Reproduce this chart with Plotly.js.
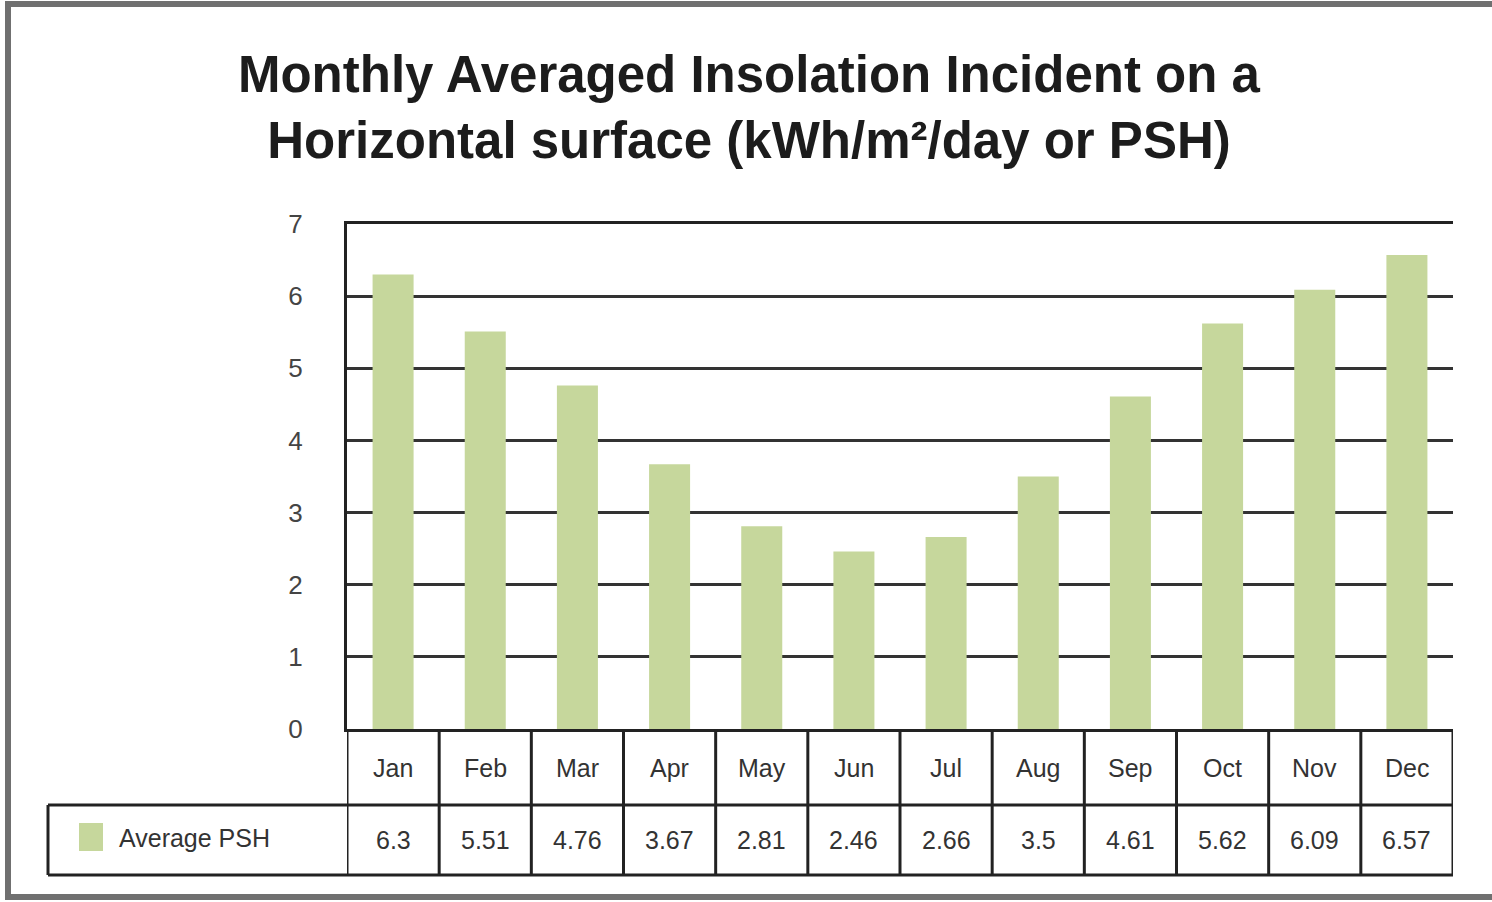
<!DOCTYPE html>
<html>
<head>
<meta charset="utf-8">
<script src="https://cdn.plot.ly/plotly-3.0.1.min.js"></script>
<style>html,body{margin:0;padding:0;background:#fff;}#chart{width:1492px;height:902px;}</style>
</head>
<body>
<div id="chart"></div>
<script>
// ---- data ----
const months = ["Jan","Feb","Mar","Apr","May","Jun","Jul","Aug","Sep","Oct","Nov","Dec"];
const averagePSH = [6.3, 5.51, 4.76, 3.67, 2.81, 2.46, 2.66, 3.5, 4.61, 5.62, 6.09, 6.57];
const seriesName = "Average PSH";
const yTicks = [0,1,2,3,4,5,6,7];
const chartTitle = "Monthly Averaged Insolation Incident on a<br>Horizontal surface (kWh/m²/day or PSH)";

// ---- layout geometry (pixels) ----
const W = 1492, H = 902;
const L = 347, R = 1453, T = 224, B = 729;
const px2x = p => (p - L) / (R - L);
const px2y = p => (B - p) / (B - T);

const barColor = "#c6d79c";
const lineColor = "#222";
const textColor = "#333";
const font = "Liberation Sans, Arial, sans-serif";

const row1 = 805, row2 = 875, legendLeft = 48;

const shapes = [];
// outer frame
shapes.push({type:"rect", xref:"paper", yref:"paper",
  x0:px2x(8), x1:px2x(1510), y0:px2y(897), y1:px2y(4),
  line:{color:"#707070", width:6}, layer:"below"});
// vertical table lines at category boundaries
for (let i = 0; i <= months.length; i++) {
  shapes.push({type:"line", xref:"x", yref:"paper",
    x0:i-0.5, x1:i-0.5, y0:0, y1:px2y(row2),
    line:{color:lineColor, width:3}, layer:"above"});
}
// horizontal table lines
shapes.push({type:"line", xref:"paper", yref:"paper", x0:px2x(legendLeft), x1:1, y0:px2y(row1), y1:px2y(row1), line:{color:lineColor, width:3}});
shapes.push({type:"line", xref:"paper", yref:"paper", x0:px2x(legendLeft), x1:1, y0:px2y(row2), y1:px2y(row2), line:{color:lineColor, width:3}});
shapes.push({type:"line", xref:"paper", yref:"paper", x0:px2x(legendLeft), x1:px2x(legendLeft), y0:px2y(row1), y1:px2y(row2), line:{color:lineColor, width:3}});
// legend swatch
shapes.push({type:"rect", xref:"paper", yref:"paper",
  x0:px2x(79), x1:px2x(103), y0:px2y(851), y1:px2y(823),
  fillcolor:barColor, line:{width:0}});

const annotations = [];
months.forEach((m, i) => {
  annotations.push({x:m, xref:"x", y:px2y(768), yref:"paper", text:m, showarrow:false,
    xanchor:"center", yanchor:"middle", font:{family:font, size:25, color:textColor}});
  annotations.push({x:m, xref:"x", y:px2y(840), yref:"paper", text:String(averagePSH[i]), showarrow:false,
    xanchor:"center", yanchor:"middle", font:{family:font, size:25, color:textColor}});
});
annotations.push({x:px2x(117), xref:"paper", y:px2y(838), yref:"paper", text:seriesName, showarrow:false,
  xanchor:"left", yanchor:"middle", font:{family:font, size:25, color:textColor}});

const trace = {
  type:"bar", x:months, y:averagePSH, name:seriesName,
  marker:{color:barColor, line:{width:0}}, hoverinfo:"x+y"
};

const layout = {
  width:W, height:H,
  margin:{l:L, r:W-R, t:T, b:H-B, pad:0},
  paper_bgcolor:"#fff", plot_bgcolor:"#fff",
  showlegend:false,
  bargap:0.555,
  title:{text:chartTitle, x:0.502, xref:"container", xanchor:"center",
    y:1-92/H, yref:"container", yanchor:"middle",
    font:{family:font, size:51, color:"#1c1c1c", weight:"bold"}},
  xaxis:{type:"category", range:[-0.5, 11.5], showticklabels:false, ticks:"",
    showgrid:false, zeroline:false, showline:true, linecolor:lineColor, linewidth:3, mirror:true,
    fixedrange:true},
  yaxis:{range:[0,7], tickvals:yTicks, ticktext:yTicks.map(String), ticks:"",
    ticklabelstandoff:36,
    tickfont:{family:font, size:26, color:"#444"},
    showgrid:true, gridcolor:"#333", gridwidth:3, zeroline:false,
    showline:true, linecolor:lineColor, linewidth:3, fixedrange:true},
  shapes:shapes, annotations:annotations
};

Plotly.newPlot("chart", [trace], layout, {displayModeBar:false, staticPlot:true});
</script>
</body>
</html>
